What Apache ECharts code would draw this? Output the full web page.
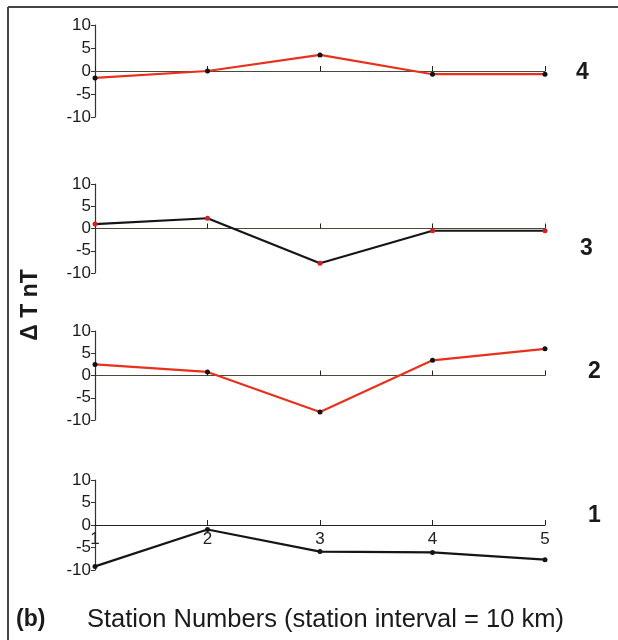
<!DOCTYPE html>
<html>
<head>
<meta charset="utf-8">
<script src="https://cdn.jsdelivr.net/npm/echarts@6/dist/echarts.min.js"></script>
<style>
  body { margin: 0; background: #fff; }
  #chart { width: 618px; height: 640px; }
</style>
</head>
<body>
<div id="chart"></div>
<script>
// station numbers along the profile
const stations = [1, 2, 3, 4, 5];
const yTicks = [-10, -5, 0, 5, 10];
// ΔT (nT) for each panel
const panel4 = [-1.5, 0, 3.5, -0.7, -0.7];
const panel3 = [1.0, 2.3, -7.8, -0.5, -0.5];
const panel2 = [2.5, 0.8, -8.2, 3.4, 6.0];
const panel1 = [-9.2, -1.0, -5.9, -6.1, -7.7];
const panelLabels = ["4", "3", "2", "1"];

const chart = echarts.init(document.getElementById("chart"));

// panel layout top→bottom: 4,3,2,1
const grids = [
  { left: 95, right: 73, top: 25, height: 92 },
  { left: 95, right: 73, top: 184, height: 89 },
  { left: 95, right: 73, top: 331, height: 89 },
  { left: 95, right: 73, top: 480, height: 90 },
];

const font = "Liberation Sans, Arial, sans-serif";

const xAxes = grids.map((g, i) => ({
  type: "value",
  gridIndex: i,
  min: 1,
  max: 5,
  interval: 1,
  // bottom panel: move the whole axis (with labels) up to the zero line
  offset: i == 3 ? -45 : 0,
  axisLine: { onZero: i != 3, lineStyle: { color: i == 3 ? "#222" : "#4a4a3a", width: 1.2 } },
  axisTick: { show: true, inside: true, length: 5, lineStyle: { color: "#222" } },
  axisLabel: {
    show: i == 3,
    color: "#222",
    fontSize: 17,
    fontFamily: font,
    margin: 6,
  },
  splitLine: { show: false },
}));

const yAxes = grids.map((g, i) => ({
  type: "value",
  gridIndex: i,
  min: -10,
  max: 10,
  interval: 5,
  axisLine: { show: true, lineStyle: { color: "#333", width: 1.2 } },
  axisTick: { show: true, length: 4, lineStyle: { color: "#333" } },
  axisLabel: {
    color: "#1a1a1a",
    fontSize: 17,
    fontFamily: font,
    margin: 4,
    formatter: v => (yTicks.includes(v) ? String(v) : ""),
  },
  splitLine: { show: false },
}));

function mkSeries(data, idx, lineColor, dotColor) {
  return {
    type: "line",
    xAxisIndex: idx,
    yAxisIndex: idx,
    data: stations.map((s, k) => [s, data[k]]),
    symbol: "circle",
    symbolSize: 5,
    showSymbol: true,
    lineStyle: { color: lineColor, width: 2.2 },
    itemStyle: { color: dotColor },
    silent: true,
    animation: false,
  };
}

const labelPos = [[576, 73], [580, 249], [588, 372], [588, 516]];

const option = {
  backgroundColor: "#fff",
  animation: false,
  grid: grids,
  xAxis: xAxes,
  yAxis: yAxes,
  series: [
    mkSeries(panel4, 0, "#e8301c", "#111"),
    mkSeries(panel3, 1, "#151515", "#d42020"),
    mkSeries(panel2, 2, "#e8301c", "#111"),
    mkSeries(panel1, 3, "#151515", "#151515"),
  ],
  graphic: [
    // frame
    { type: "line", shape: { x1: 8, y1: 7, x2: 618, y2: 7 }, style: { stroke: "#444", lineWidth: 2 } },
    { type: "line", shape: { x1: 8, y1: 7, x2: 8, y2: 640 }, style: { stroke: "#444", lineWidth: 2 } },
    ...panelLabels.map((t, i) => ({
      type: "text",
      x: labelPos[i][0],
      y: labelPos[i][1],
      style: { text: t, font: "bold 23px " + font, fill: "#1a1a1a", textVerticalAlign: "middle" },
    })),
    {
      type: "text",
      x: 31,
      y: 305,
      rotation: Math.PI / 2,
      style: {
        text: "\u0394 T nT",
        font: "bold 23px " + font,
        fill: "#1a1a1a",
        textAlign: "center",
        textVerticalAlign: "middle",
      },
    },
    {
      type: "text",
      x: 16,
      y: 620,
      style: { text: "(b)", font: "bold 23px " + font, fill: "#1a1a1a", textVerticalAlign: "middle" },
    },
    {
      type: "text",
      x: 87,
      y: 620,
      style: { text: "Station Numbers (station interval = 10 km)", font: "25.5px " + font, fill: "#1a1a1a", textVerticalAlign: "middle" },
    },
  ],
};

chart.setOption(option);
</script>
</body>
</html>
